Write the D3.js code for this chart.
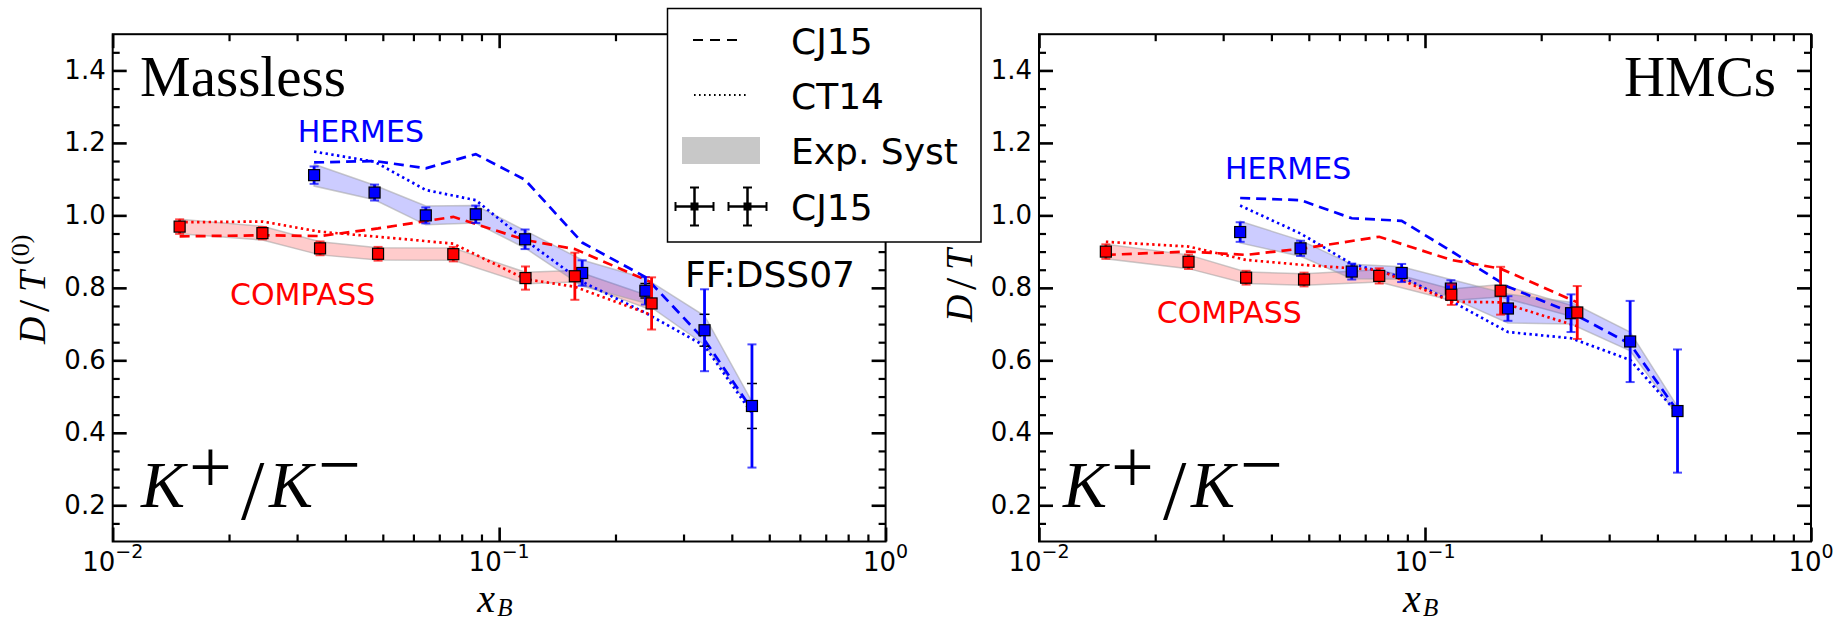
<!DOCTYPE html>
<html>
<head>
<meta charset="utf-8">
<script src="https://cdn.jsdelivr.net/npm/d3@7"></script>
<style>
  body { margin: 0; background: #fff; }
  text { font-family: "DejaVu Sans", sans-serif; }
  .serif, .serif text { font-family: "Liberation Serif", "Times New Roman", serif; }
</style>
</head>
<body>
<svg id="chart" width="1841" height="621"></svg>
<script>
// ---- data -------------------------------------------------------------
const hermesX  = [0.0332, 0.0476, 0.0646, 0.0870, 0.1167, 0.1640, 0.2390, 0.3400, 0.4510];
const compassX = [0.0149, 0.0244, 0.0344, 0.0486, 0.0761, 0.1170, 0.1570, 0.2480];

// Massless panel
const hermesMassless       = [1.111, 1.063, 1.000, 1.003, 0.934, 0.841, 0.792, 0.683, 0.474];
const hermesMasslessStat   = [0.024, 0.022, 0.022, 0.024, 0.027, 0.035, 0.038, 0.113, 0.170];
const hermesMasslessSyst   = [0.030, 0.020, 0.026, 0.024, 0.024, 0.036, 0.034, 0.040, 0.012];
const hermesMasslessTheo   = [0.006, 0.006, 0.006, 0.006, 0.008, 0.012, 0.020, 0.044, 0.062];
const hermesCJ15Massless   = [1.146, 1.150, 1.130, 1.169, 1.098, 0.925, 0.830, 0.656, 0.465];
const hermesCT14Massless   = [1.176, 1.148, 1.070, 1.042, 0.932, 0.817, 0.731, 0.640, 0.454];

const compassMassless      = [0.969, 0.951, 0.909, 0.894, 0.893, 0.827, 0.832, 0.757];
const compassMasslessStat  = [0.020, 0.017, 0.019, 0.019, 0.020, 0.032, 0.065, 0.072];
const compassMasslessSyst  = [0.020, 0.019, 0.018, 0.017, 0.017, 0.016, 0.016, 0.018];
const compassMasslessTheo  = [0.005, 0.005, 0.005, 0.005, 0.005, 0.006, 0.008, 0.012];
const compassCJ15Massless  = [0.942, 0.945, 0.943, 0.964, 0.996, 0.932, 0.907, 0.815];
const compassCT14Massless  = [0.981, 0.983, 0.955, 0.941, 0.922, 0.824, 0.803, 0.725];

// HMCs panel
const hermesHMC            = [0.954, 0.909, 0.845, 0.841, 0.798, 0.743, 0.730, 0.652, 0.460];
const hermesHMCStat        = [0.027, 0.021, 0.022, 0.025, 0.023, 0.034, 0.052, 0.112, 0.170];
const hermesHMCSyst        = [0.030, 0.022, 0.020, 0.017, 0.025, 0.040, 0.030, 0.026, 0.012];
const hermesHMCTheo        = [0.005, 0.005, 0.005, 0.005, 0.005, 0.005, 0.005, 0.005, 0.005];
const hermesCJ15HMC        = [1.048, 1.042, 0.992, 0.985, 0.902, 0.803, 0.732, 0.645, 0.460];
const hermesCT14HMC        = [1.027, 0.950, 0.866, 0.830, 0.764, 0.678, 0.661, 0.601, 0.454];

const compassHMC           = [0.900, 0.872, 0.828, 0.823, 0.833, 0.781, 0.792, 0.732];
const compassHMCStat       = [0.020, 0.020, 0.019, 0.019, 0.021, 0.028, 0.066, 0.073];
const compassHMCSyst       = [0.020, 0.019, 0.016, 0.016, 0.017, 0.016, 0.017, 0.015];
const compassHMCTheo       = [0.005, 0.005, 0.005, 0.005, 0.005, 0.005, 0.005, 0.005];
const compassCJ15HMC       = [0.891, 0.900, 0.891, 0.909, 0.941, 0.877, 0.853, 0.760];
const compassCT14HMC       = [0.927, 0.914, 0.877, 0.863, 0.849, 0.762, 0.760, 0.694];

// axis ticks
const yTicks      = [0.2, 0.4, 0.6, 0.8, 1.0, 1.2, 1.4];
const yTickLabels = ["0.2", "0.4", "0.6", "0.8", "1.0", "1.2", "1.4"];
const yMinor      = [0.15, 0.25, 0.3, 0.35, 0.45, 0.5, 0.55, 0.65, 0.7, 0.75, 0.85, 0.9, 0.95,
                     1.05, 1.1, 1.15, 1.25, 1.3, 1.35, 1.45];
const xTicks      = [0.01, 0.1, 1];
const xTickExp    = ["\u22122", "\u22121", "0"];
const xMinor      = [0.02,0.03,0.04,0.05,0.06,0.07,0.08,0.09,0.2,0.3,0.4,0.5,0.6,0.7,0.8,0.9];

// legend entries
const legendLabels = ["CJ15", "CT14", "Exp. Syst", "CJ15"];

// ---- drawing ----------------------------------------------------------
const RED = "#ff0000", BLUE = "#0000ff";
const svg = d3.select("#chart");
const TOP = 34.2, BOTTOM = 541.5;

const panels = [
  { x0: 112.7, x1: 885.6, title: "Massless", titleX: 140, titleAnchor: "start",
    kX: 143, labelShift: 0,
    hermes: { v: hermesMassless, stat: hermesMasslessStat, syst: hermesMasslessSyst, theo: hermesMasslessTheo,
              cj: hermesCJ15Massless, ct: hermesCT14Massless, lx: 297.7, ly: 142.3 },
    compass: { v: compassMassless, stat: compassMasslessStat, syst: compassMasslessSyst, theo: compassMasslessTheo,
               cj: compassCJ15Massless, ct: compassCT14Massless, lx: 230, ly: 305.3 } },
  { x0: 1039, x1: 1811, title: "HMCs", titleX: 1776, titleAnchor: "end",
    kX: 1065, labelShift: 22,
    hermes: { v: hermesHMC, stat: hermesHMCStat, syst: hermesHMCSyst, theo: hermesHMCTheo,
              cj: hermesCJ15HMC, ct: hermesCT14HMC, lx: 1225, ly: 178.7 },
    compass: { v: compassHMC, stat: compassHMCStat, syst: compassHMCSyst, theo: compassHMCTheo,
               cj: compassCJ15HMC, ct: compassCT14HMC, lx: 1156.7, ly: 323.4 } }
];

function drawPanel(p) {
  const x = d3.scaleLog().domain([0.01, 1]).range([p.x0, p.x1]);
  const y = d3.scaleLinear().domain([0.1, 1.5]).range([BOTTOM, TOP]);
  const g = svg.append("g");

  const sets = [
    { xs: hermesX, d: p.hermes, color: BLUE },
    { xs: compassX, d: p.compass, color: RED }
  ];

  // systematic bands
  sets.slice().reverse().forEach(s => {
    const pts = s.xs.map((xv, i) => ({ x: xv, v: s.d.v[i], e: s.d.syst[i] }));
    g.append("path")
      .attr("d", d3.area().x(d => x(d.x)).y0(d => y(d.v - d.e)).y1(d => y(d.v + d.e))(pts))
      .attr("fill", s.color).attr("fill-opacity", 0.2)
      .attr("stroke", "#a0a0a0").attr("stroke-opacity", 0.55).attr("stroke-width", 1.5);
  });

  // CJ15 (dashed) and CT14 (dotted) curves
  const line = d3.line().x(d => x(d.x)).y(d => y(d.v));
  sets.forEach(s => {
    g.append("path").attr("d", line(s.xs.map((xv, i) => ({ x: xv, v: s.d.cj[i] }))))
      .attr("fill", "none").attr("stroke", s.color).attr("stroke-width", 2.7)
      .attr("stroke-dasharray", "10,6");
    g.append("path").attr("d", line(s.xs.map((xv, i) => ({ x: xv, v: s.d.ct[i] }))))
      .attr("fill", "none").attr("stroke", s.color).attr("stroke-width", 2.7)
      .attr("stroke-dasharray", "2.4,3.4");
  });

  // error bars and markers
  sets.forEach(s => {
    const eg = g.append("g");
    s.xs.forEach((xv, i) => {
      const cx = x(xv), v = s.d.v[i];
      // black theory error
      const t = s.d.theo[i];
      eg.append("line").attr("x1", cx).attr("x2", cx).attr("y1", y(v - t)).attr("y2", y(v + t))
        .attr("stroke", "#000").attr("stroke-width", 1.5);
      [v - t, v + t].forEach(e => eg.append("line").attr("x1", cx - 5).attr("x2", cx + 5)
        .attr("y1", y(e)).attr("y2", y(e)).attr("stroke", "#000").attr("stroke-width", 1.5));
      // statistical error
      const st = s.d.stat[i];
      eg.append("line").attr("x1", cx).attr("x2", cx).attr("y1", y(v - st)).attr("y2", y(v + st))
        .attr("stroke", s.color).attr("stroke-width", 2.8);
      [v - st, v + st].forEach(e => eg.append("line").attr("x1", cx - 4.5).attr("x2", cx + 4.5)
        .attr("y1", y(e)).attr("y2", y(e)).attr("stroke", s.color).attr("stroke-opacity", 0.7)
        .attr("stroke-width", 2));
    });
    eg.selectAll("rect.m").data(s.xs.map((xv, i) => ({ x: xv, v: s.d.v[i] }))).join("rect")
      .attr("x", d => x(d.x) - 5.5).attr("y", d => y(d.v) - 5.5)
      .attr("width", 11).attr("height", 11)
      .attr("fill", s.color).attr("stroke", "#000").attr("stroke-width", 1.2);
  });

  // axes (ticks point inward)
  const styleAxis = (sel, w) => {
    sel.select(".domain").remove();
    sel.selectAll(".tick line").attr("stroke", "#000").attr("stroke-width", w);
  };
  g.append("g").attr("transform", `translate(${p.x0},0)`)
    .call(d3.axisLeft(y).tickValues(yTicks).tickSize(-14).tickPadding(7)
      .tickFormat((d, i) => yTickLabels[i]))
    .call(sel => styleAxis(sel, 2.6))
    .call(sel => sel.selectAll("text").attr("font-size", 26).attr("fill", "#000")
      .attr("font-family", "DejaVu Sans").attr("dy", "0.3em"));
  g.append("g").attr("transform", `translate(${p.x0},0)`)
    .call(d3.axisLeft(y).tickValues(yMinor).tickSize(-7).tickFormat(""))
    .call(sel => styleAxis(sel, 2.2));
  g.append("g").attr("transform", `translate(${p.x1},0)`)
    .call(d3.axisRight(y).tickValues(yTicks).tickSize(-14).tickFormat(""))
    .call(sel => styleAxis(sel, 2.6));
  g.append("g").attr("transform", `translate(${p.x1},0)`)
    .call(d3.axisRight(y).tickValues(yMinor).tickSize(-7).tickFormat(""))
    .call(sel => styleAxis(sel, 2.2));
  g.append("g").attr("transform", `translate(0,${BOTTOM})`)
    .call(d3.axisBottom(x).tickValues(xTicks).tickSize(-14).tickFormat(""))
    .call(sel => styleAxis(sel, 2.6));
  g.append("g").attr("transform", `translate(0,${BOTTOM})`)
    .call(d3.axisBottom(x).tickValues(xMinor).tickSize(-7).tickFormat(""))
    .call(sel => styleAxis(sel, 2.2));
  g.append("g").attr("transform", `translate(0,${TOP})`)
    .call(d3.axisTop(x).tickValues(xTicks).tickSize(-14).tickFormat(""))
    .call(sel => styleAxis(sel, 2.6));
  g.append("g").attr("transform", `translate(0,${TOP})`)
    .call(d3.axisTop(x).tickValues(xMinor).tickSize(-7).tickFormat(""))
    .call(sel => styleAxis(sel, 2.2));

  // x tick labels 10^n
  xTicks.forEach((v, i) => {
    const t = g.append("text").attr("x", x(v)).attr("y", 571).attr("text-anchor", "middle")
      .attr("font-size", 26).attr("fill", "#000");
    t.append("tspan").text("10");
    t.append("tspan").attr("dy", -13).attr("font-size", 19).text(xTickExp[i]);
  });

  // frame
  g.append("rect").attr("x", p.x0).attr("y", TOP).attr("width", p.x1 - p.x0).attr("height", BOTTOM - TOP)
    .attr("fill", "none").attr("stroke", "#000").attr("stroke-width", 2);

  // titles and labels
  g.append("text").attr("class", "serif").attr("x", p.titleX).attr("y", 96)
    .attr("text-anchor", p.titleAnchor).attr("font-size", 57).text(p.title);
  g.append("text").attr("x", p.hermes.lx).attr("y", p.hermes.ly).attr("font-size", 30)
    .attr("fill", BLUE).text("HERMES");
  g.append("text").attr("x", p.compass.lx).attr("y", p.compass.ly).attr("font-size", 30)
    .attr("fill", RED).text("COMPASS");

  // K+/K- label
  const k = g.append("g").attr("class", "serif").attr("transform", `translate(${p.kX},507)`);
  k.append("text").attr("x", -2).attr("y", 0).attr("font-size", 66).attr("font-style", "italic").text("K");
  k.append("text").attr("x", 46).attr("y", -15).attr("font-size", 76).text("+");
  k.append("text").attr("x", 98).attr("y", 12).attr("font-size", 84).text("/");
  k.append("text").attr("x", 126).attr("y", 0).attr("font-size", 66).attr("font-style", "italic").text("K");
  k.append("text").attr("x", 175).attr("y", -17).attr("font-size", 76).text("\u2212");

  // x axis label
  const xl = g.append("g").attr("class", "serif")
    .attr("transform", `translate(${(p.x0 + p.x1) / 2 - 22},612)`);
  xl.append("text").attr("font-size", 40).attr("font-style", "italic").text("x");
  xl.append("text").attr("x", 20).attr("y", 4).attr("font-size", 25).attr("font-style", "italic").text("B");

  // y axis label D/T^(0)
  const yl = g.append("g").attr("class", "serif")
    .attr("transform", `translate(${p.x0 - 67.5},${290 - p.labelShift}) rotate(-90)`);
  yl.append("text").attr("x", -54).attr("font-size", 38).attr("font-style", "italic").text("D");
  yl.append("text").attr("x", -22).attr("y", 4).attr("font-size", 44).text("/");
  yl.append("text").attr("x", -2).attr("font-size", 38).attr("font-style", "italic").text("T");
  yl.append("text").attr("x", 25).attr("y", -16).attr("font-size", 26).text("(0)");
}

panels.forEach(drawPanel);

// FF label
svg.append("text").attr("x", 685).attr("y", 286.7).attr("font-size", 36).text("FF:DSS07");

// legend
const lg = svg.append("g");
lg.append("rect").attr("x", 667.5).attr("y", 8.5).attr("width", 313.5).attr("height", 233.5)
  .attr("fill", "#fff").attr("stroke", "#000").attr("stroke-width", 1.5);
const rowY = [53.5, 108.5, 163.5, 219.5];
legendLabels.forEach((t, i) => {
  lg.append("text").attr("x", 791).attr("y", rowY[i]).attr("font-size", 36).text(t);
});
lg.append("line").attr("x1", 693).attr("x2", 741).attr("y1", 40).attr("y2", 40)
  .attr("stroke", "#000").attr("stroke-width", 2).attr("stroke-dasharray", "10,7");
lg.append("line").attr("x1", 694).attr("x2", 746).attr("y1", 95).attr("y2", 95)
  .attr("stroke", "#000").attr("stroke-width", 2).attr("stroke-dasharray", "1.6,3.4");
lg.append("rect").attr("x", 682).attr("y", 137).attr("width", 78).attr("height", 27).attr("fill", "#c8c8c8");
[694.5, 747.5].forEach(cx => {
  const cy = 206.5;
  lg.append("line").attr("x1", cx - 19).attr("x2", cx + 19).attr("y1", cy).attr("y2", cy)
    .attr("stroke", "#000").attr("stroke-width", 2.5);
  lg.append("line").attr("x1", cx).attr("x2", cx).attr("y1", cy - 19).attr("y2", cy + 19)
    .attr("stroke", "#000").attr("stroke-width", 2.5);
  [cy - 19, cy + 19].forEach(e => lg.append("line").attr("x1", cx - 4.5).attr("x2", cx + 4.5)
    .attr("y1", e).attr("y2", e).attr("stroke", "#000").attr("stroke-width", 2));
  [cx - 19, cx + 19].forEach(e => lg.append("line").attr("x1", e).attr("x2", e)
    .attr("y1", cy - 4.5).attr("y2", cy + 4.5).attr("stroke", "#000").attr("stroke-width", 2));
  lg.append("rect").attr("x", cx - 4).attr("y", cy - 4).attr("width", 8).attr("height", 8).attr("fill", "#000");
});
</script>
</body>
</html>
